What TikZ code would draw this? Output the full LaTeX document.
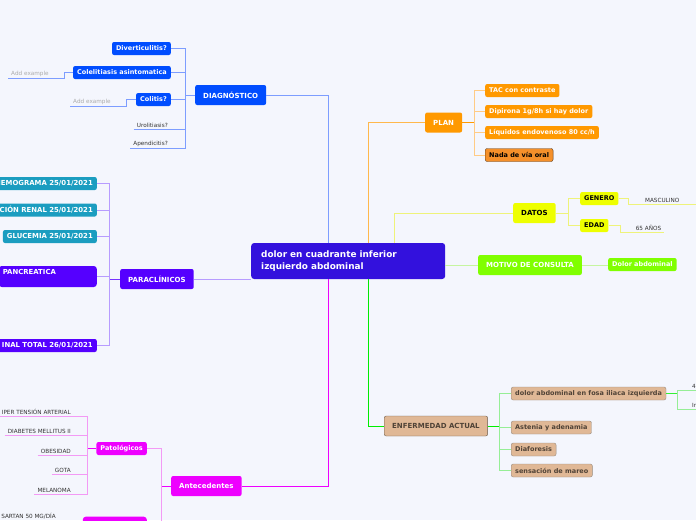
\documentclass[tikz,border=0pt]{standalone}
\usepackage{fontspec}
\setmainfont{DejaVu Sans}
\usetikzlibrary{positioning}
\definecolor{bgcol}{HTML}{F4F6FD}
\definecolor{rootcol}{HTML}{3311DD}
\definecolor{diagcol}{HTML}{004DFF}
\definecolor{diagline}{HTML}{7D9DFF}
\definecolor{parcol}{HTML}{5500FF}
\definecolor{parline}{HTML}{B79CFF}
\definecolor{labcol}{HTML}{1B9DC0}
\definecolor{plancol}{HTML}{FF9900}
\definecolor{planline}{HTML}{FFCB85}
\definecolor{nadacol}{HTML}{F5902A}
\definecolor{nadaedge}{HTML}{5A3B1E}
\definecolor{datcol}{HTML}{EEFF00}
\definecolor{datline}{HTML}{EEF37A}
\definecolor{motcol}{HTML}{80FF00}
\definecolor{motline}{HTML}{C6F5A0}
\definecolor{enfcol}{HTML}{E0B896}
\definecolor{enfedge}{HTML}{6B5B4B}
\definecolor{enftext}{HTML}{4F4236}
\definecolor{enfline}{HTML}{00EE00}
\definecolor{enfsub}{HTML}{96EE96}
\definecolor{antcol}{HTML}{EE00FF}
\definecolor{antsub}{HTML}{F39AF5}
\definecolor{leaftext}{HTML}{333333}

\begin{document}
\begin{tikzpicture}[x=1pt,y=-1pt,
  box/.style={rounded corners=2pt, inner xsep=4pt, inner ysep=0pt, minimum height=13pt, text=white, font=\fontsize{6.5}{8}\selectfont\bfseries},
  labbox/.style={box, font=\fontsize{6.9}{8.5}\selectfont\bfseries},
  branch/.style={box, minimum height=20pt, inner xsep=8pt, font=\fontsize{7}{8.5}\selectfont\bfseries},
  leaf/.style={inner xsep=3pt, inner ysep=1.5pt, text=leaftext, font=\fontsize{5.7}{7}\selectfont},
  addex/.style={leaf, text=gray!65, text width=50pt, align=left},
  link/.style={line width=1pt},
  sublink/.style={line width=0.8pt}]
    \fill[bgcol] (0,0) rectangle (696,520);
    \useasboundingbox (0,0) rectangle (696,520);

    \node[box, fill=rootcol, text width=174pt, align=left, inner xsep=10pt, minimum height=36pt, rounded corners=3pt, font=\fontsize{8.9}{11.5}\selectfont\bfseries, anchor=west] (root) at (251,261) {dolor en cuadrante inferior\\izquierdo abdominal};

    \node[branch, fill=diagcol, anchor=west] (diag) at (195,95) {DIAGNÓSTICO};
    \coordinate (diagbus) at (185,0);
    \node[box, fill=diagcol, anchor=east] (divert) at (171,48.5) {Diverticulitis?};
    \node[box, fill=diagcol, anchor=east] (colel) at (171,72.5) {Colelitiasis asintomatica};
    \node[box, fill=diagcol, anchor=east] (colitis) at (171,99.5) {Colitis?};
    \node[leaf, anchor=south east] (uro) at (171,129) {Urolitiasis?};
    \node[leaf, anchor=south east] (apend) at (171,148) {Apendicitis?};
    \node[addex, anchor=south west] (colelex) at (8,78) {Add example};
    \node[addex, anchor=south west] (colitisex) at (70,106) {Add example};

    \node[branch, fill=parcol, anchor=west] (paracl) at (120,279) {PARACLÍNICOS};
    \coordinate (parbus) at (109,0);
    \node[labbox, fill=labcol, anchor=east] (hemo) at (97,183.5) {HEMOGRAMA 25/01/2021};
    \node[labbox, fill=labcol, anchor=east] (renal) at (97,210) {CIÓN RENAL 25/01/2021};
    \node[labbox, fill=labcol, anchor=east] (gluc) at (97,236.5) {GLUCEMIA 25/01/2021};
    \node[labbox, fill=parcol, anchor=east, text width=90pt, align=left, minimum height=21pt, rounded corners=3pt, font=\fontsize{6.9}{9}\selectfont\bfseries] (pancr) at (97,276.5) {PANCREATICA\\\mbox{}};
    \node[labbox, fill=parcol, anchor=east] (orina) at (97,345.5) {INAL TOTAL 26/01/2021};

    \node[branch, fill=plancol, anchor=west] (plan) at (425,122.5) {PLAN};
    \coordinate (planbus) at (474,0);
    \node[box, fill=plancol, anchor=west] (tac) at (485,90.5) {TAC con contraste};
    \node[box, fill=plancol, anchor=west] (dipi) at (485,111.5) {Dipirona 1g/8h si hay dolor};
    \node[box, fill=plancol, anchor=west] (liq) at (485,132.5) {Líquidos endovenoso 80 cc/h};
    \node[box, fill=nadacol, draw=nadaedge, text=black, anchor=west] (nada) at (485,155) {Nada de vía oral};

    \node[branch, fill=datcol, text=black, anchor=west] (datos) at (513,213) {DATOS};
    \coordinate (datbus) at (568,0);
    \node[box, fill=datcol, text=black, anchor=west] (genero) at (580,198.5) {GENERO};
    \node[box, fill=datcol, text=black, anchor=west] (edad) at (580,225.5) {EDAD};
    \node[leaf, anchor=south west, minimum width=68pt] (masc) at (628,204) {MASCULINO};
    \node[leaf, anchor=south west, text width=38pt, align=right] (anios) at (620,232) {65 AÑOS};

    \node[branch, fill=motcol, anchor=west] (motivo) at (478,265) {MOTIVO DE CONSULTA};
    \node[box, fill=motcol, anchor=west] (dolorab) at (608,264.5) {Dolor abdominal};

    \node[branch, fill=enfcol, draw=enfedge, text=enftext, anchor=west] (enf) at (384,426) {ENFERMEDAD ACTUAL};
    \coordinate (enfbus) at (499,0);
    \node[box, fill=enfcol, draw=enfedge!70, text=enftext, anchor=west] (fosa) at (511,393.5) {dolor abdominal en fosa iliaca izquierda};
    \node[box, fill=enfcol, draw=enfedge!70, text=enftext, anchor=west] (astenia) at (511,427.5) {Astenia y adenamia};
    \node[box, fill=enfcol, draw=enfedge!70, text=enftext, anchor=west] (diaf) at (511,449.5) {Diaforesis};
    \node[box, fill=enfcol, draw=enfedge!70, text=enftext, anchor=west] (mareo) at (511,470.5) {sensación de mareo};
    \coordinate (fosabus) at (677,0);
    \node[leaf, anchor=south west] (fosa1) at (689,390) {4};
    \node[leaf, anchor=south west] (fosa2) at (689,409) {In};

    \node[branch, fill=antcol, anchor=west] (antec) at (171,486) {Antecedentes};
    \coordinate (antbus) at (161,0);
    \node[box, fill=antcol, anchor=east] (patol) at (147,448.5) {Patológicos};
    \coordinate (patbus) at (87,0);
    \node[leaf, anchor=south east] (hta) at (74,416) {IPER TENSIÓN ARTERIAL};
    \node[leaf, anchor=south east] (dm) at (74,435) {DIABETES MELLITUS II};
    \node[leaf, anchor=south east] (obes) at (74,455) {OBESIDAD};
    \node[leaf, anchor=south east] (gota) at (74,474) {GOTA};
    \node[leaf, anchor=south east] (mela) at (74,494) {MELANOMA};
    \node[box, fill=antcol, anchor=north east, minimum width=64pt, rounded corners=3pt] (medic) at (147,516.5) {};
    \coordinate (medbus) at (73,0);
    \node[leaf, anchor=south east] (sartan) at (59,521) {SARTAN 50 MG/DÍA};

    \draw[link, diagline] (diag.east) -| ([xshift=-20pt]root.north);
    \draw[sublink, diagline] (diag.west) -- (diag.west -| diagbus);
    \draw[sublink, diagline] (divert.east) -| (diag.west -| diagbus);
    \draw[sublink, diagline] (colel.east) -| (diag.west -| diagbus);
    \draw[sublink, diagline] (colitis.east) -| (diag.west -| diagbus);
    \draw[sublink, diagline] (uro.south west) -| (diag.west -| diagbus);
    \draw[sublink, diagline] (apend.south west) -| (diag.west -| diagbus);
    \draw[sublink, diagline] (colel.west) -| (colelex.south east) -- (colelex.south west);
    \draw[sublink, diagline] (colitis.west) -| (colitisex.south east) -- (colitisex.south west);

    \draw[link, parline] (paracl.east) -- (paracl.east -| root.west);
    \draw[sublink, parcol!80] (paracl.west) -- (paracl.west -| parbus);
    \foreach \lab in {hemo,renal,gluc,pancr,orina}
        \draw[sublink, parline] (\lab.east) -| (paracl.west -| parbus);

    \draw[link, plancol!70] ([xshift=20pt]root.north) |- (plan.west);
    \draw[sublink, plancol] (plan.east) -- (plan.east -| planbus);
    \foreach \lab in {tac,dipi,liq,nada}
        \draw[sublink, planline] (\lab.west) -| (plan.east -| planbus);

    \draw[link, datline] ([xshift=46pt]root.north) |- (datos.west);
    \draw[sublink, datline] (datos.east) -- (datos.east -| datbus);
    \draw[sublink, datline] (genero.west) -| (datos.east -| datbus);
    \draw[sublink, datline] (edad.west) -| (datos.east -| datbus);
    \draw[sublink, datline] (genero.east) -| (masc.south west) -- (masc.south east);
    \draw[sublink, datline] (edad.east) -| (anios.south west) -- (anios.south east);

    \draw[link, motline] (root.east |- motivo.west) -- (motivo.west);
    \draw[sublink, motline] (motivo.east) -- (dolorab.west |- motivo.east);

    \draw[link, enfline] ([xshift=20pt]root.south) |- (enf.west);
    \draw[sublink, enfline] (enf.east) -- (enf.east -| enfbus);
    \foreach \lab in {fosa,astenia,diaf,mareo}
        \draw[sublink, enfsub] (\lab.west) -| (enf.east -| enfbus);
    \draw[sublink, enfline!80] (fosa.east) -- (fosa.east -| fosabus);
    \draw[sublink, enfsub] (fosa.east -| fosabus) |- (fosa1.south east);
    \draw[sublink, enfsub] (fosa.east -| fosabus) |- (fosa2.south east);

    \draw[link, antcol] ([xshift=-20pt]root.south) |- (antec.east);
    \draw[sublink, antcol] (antec.west) -- (antec.west -| antbus);
    \draw[sublink, antsub] (patol.east) -| (antec.west -| antbus);
    \draw[sublink, antsub] (medic.east) -| (antec.west -| antbus);
    \draw[sublink, antcol] (patol.west) -- (patol.west -| patbus);
    \foreach \lab in {hta,dm,obes,gota,mela}
        \draw[sublink, antsub] (\lab.south west) -| (patol.west -| patbus);
    \draw[sublink, antsub] (sartan.south west) -| (medic.west -| medbus);
\end{tikzpicture}
\end{document}
